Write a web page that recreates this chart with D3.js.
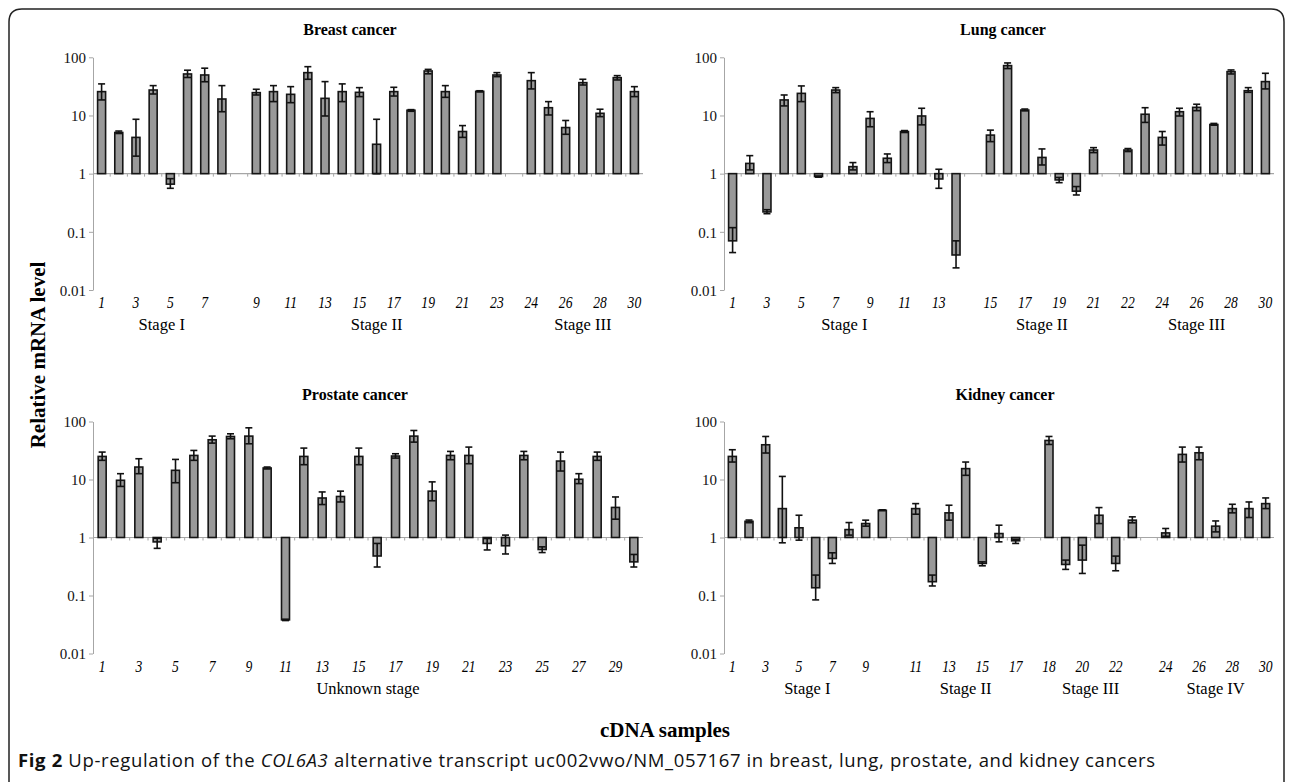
<!DOCTYPE html>
<html>
<head>
<meta charset="utf-8">
<script src="https://cdn.jsdelivr.net/npm/d3@7"></script>
<style>
  body { margin: 0; background: #fff; }
  svg { display: block; }
</style>
</head>
<body>
<svg id="fig" width="1292" height="782"></svg>
<script>
// ---- data (relative mRNA level, error bar low / high) ----
var breastValues = [25.7, 5.1, 4.2, 27.4, 0.66, 51.7, 49.7, 19.2,
    24.7, 25.7, 23.1, 54.5, 19.7, 25.7, 25.0, 3.2, 25.7, 12.3, 58.2, 25.7, 5.3, 26.0, 49.7,
    39.7, 13.6, 6.2, 36.7, 10.9, 44.7, 25.7];
var breastLow = [18.5, 4.9, 2.0, 23.4, 0.56, 45, 38, 11.6,
    22.5, 17.3, 16.6, 41.9, 9.8, 17.3, 21.1, 1.0, 21.6, 11.8, 52, 20.5, 4.2, 25.4, 46.5,
    28.6, 10.2, 4.75, 33.4, 9.55, 40.8, 21.1];
var breastHigh = [34.9, 5.4, 8.6, 32.6, 0.82, 60, 65, 32.6,
    28.2, 32.6, 31.3, 69, 38.2, 34.9, 30.1, 8.6, 30.5, 12.6, 62, 32.6, 6.7, 26.6, 54.5,
    54.5, 17.3, 8.2, 41.9, 12.8, 48.4, 31.3];
var breastStages = ["Stage I", "Stage II", "Stage III"];
var breastStageSizes = [8, 15, 7];
var breastTicks = [1, 3, 5, 7, 9, 11, 13, 15, 17, 19, 21, 23, 24, 26, 28, 30];

var lungValues = [0.07, 1.5, 0.22, 18.5, 24.0, 0.89, 27.4, 1.32, 8.9, 1.84, 5.3, 9.8, 0.81, 0.04,
    4.6, 72, 12.4, 1.9, 0.78, 0.5, 2.55,
    2.55, 10.5, 4.2, 11.6, 13.8, 7.0, 56.7, 26.7, 38.2];
var lungLow = [0.044, 1.16, 0.205, 14.6, 17.3, 0.87, 24.7, 1.16, 6.4, 1.55, 5.1, 6.9, 0.56, 0.024,
    3.55, 64, 12.0, 1.41, 0.70, 0.43, 2.3,
    2.4, 7.6, 3.1, 9.8, 12.1, 6.8, 51.7, 25.0, 28.6];
var lungHigh = [0.118, 2.04, 0.24, 22.5, 32.2, 0.91, 30.1, 1.55, 11.6, 2.18, 5.5, 13.3, 1.19, 0.07,
    5.6, 80, 12.9, 2.66, 0.86, 0.6, 2.8,
    2.7, 13.6, 5.3, 13.3, 15.6, 7.3, 60.6, 30.1, 53.1];
var lungStages = ["Stage I", "Stage II", "Stage III"];
var lungStageSizes = [14, 7, 9];
var lungTicks = [1, 3, 5, 7, 9, 11, 13, 15, 17, 19, 21, 22, 24, 26, 28, 30];

var prostateValues = [25.0, 9.7, 16.4, 0.84, 14.4, 26.0, 48.4, 55.2, 56, 15.8, 0.038, 25.0, 4.8, 5.1, 25.0,
    0.48, 25.4, 56, 6.3, 26.0, 26.0, 0.79, 0.72, 26.0, 0.62, 20.8, 10.1, 25.0, 3.3, 0.38];
var prostateLow = [21.4, 7.6, 12.6, 0.65, 8.8, 21.4, 42.4, 50.4, 41.3, 15.2, 0.037, 18.0, 3.7, 4.1, 18.0,
    0.31, 23.4, 44.1, 4.3, 21.9, 18.7, 0.61, 0.52, 21.9, 0.55, 14.0, 8.5, 21.4, 2.07, 0.31];
var prostateHigh = [29.7, 12.6, 22.8, 0.97, 22.2, 31.7, 56, 61.4, 77.8, 16.4, 0.039, 34.8, 6.1, 6.3, 34.8,
    0.79, 27.8, 70, 9.1, 30.5, 36.2, 0.96, 1.1, 30.5, 0.69, 29.7, 12.6, 29.7, 5.0, 0.51];
var prostateStages = ["Unknown stage"];
var prostateStageSizes = [30];
var prostateTicks = [1, 3, 5, 7, 9, 11, 13, 15, 17, 19, 21, 23, 25, 27, 29];

var kidneyValues = [25.0, 1.9, 39.7, 3.15, 1.47, 0.136, 0.435, 1.37, 1.74, 2.95,
    3.15, 0.173, 2.66, 15.4, 0.357, 1.17, 0.877,
    47.1, 0.343, 0.408, 2.42, 0.357, 1.99,
    1.2, 27.1, 28.9, 1.57, 3.15, 3.15, 3.84];
var kidneyLow = [20.0, 1.8, 28.6, 0.81, 0.9, 0.084, 0.357, 1.1, 1.57, 2.9,
    2.52, 0.146, 1.99, 11.8, 0.325, 0.842, 0.79,
    40.2, 0.282, 0.24, 1.74, 0.267, 1.79,
    1.05, 20.0, 21.9, 1.25, 2.66, 2.21, 3.15];
var kidneyHigh = [32.6, 2.0, 55.2, 11.3, 2.42, 0.225, 0.545, 1.81, 1.99, 3.0,
    3.84, 0.225, 3.6, 20.0, 0.38, 1.63, 0.93,
    55.2, 0.408, 0.738, 3.28, 0.478, 2.27,
    1.43, 36.2, 36.2, 1.93, 3.74, 4.1, 4.81];
var kidneyStages = ["Stage I", "Stage II", "Stage III", "Stage IV"];
var kidneyStageSizes = [10, 7, 6, 7];
var kidneyTicks = [1, 3, 5, 7, 9, 11, 13, 15, 17, 18, 20, 22, 24, 26, 28, 30];

var yTicks = [0.01, 0.1, 1, 10, 100];

// ---- layout ----
var panels = [
    { title: "Breast cancer", values: breastValues, low: breastLow, high: breastHigh,
      stages: breastStages, sizes: breastStageSizes, ticks: breastTicks,
      left: 93, right: 643, top: 57.3, bottom: 290, titleX: 350 },
    { title: "Lung cancer", values: lungValues, low: lungLow, high: lungHigh,
      stages: lungStages, sizes: lungStageSizes, ticks: lungTicks,
      left: 724, right: 1274, top: 57.3, bottom: 290, titleX: 1003 },
    { title: "Prostate cancer", values: prostateValues, low: prostateLow, high: prostateHigh,
      stages: prostateStages, sizes: prostateStageSizes, ticks: prostateTicks,
      left: 93, right: 643, top: 421.5, bottom: 653.5, titleX: 355 },
    { title: "Kidney cancer", values: kidneyValues, low: kidneyLow, high: kidneyHigh,
      stages: kidneyStages, sizes: kidneyStageSizes, ticks: kidneyTicks,
      left: 724, right: 1274, top: 421.5, bottom: 653.5, titleX: 1005 }
];

var serif = "'Liberation Serif', 'Times New Roman', serif";
var svg = d3.select("#fig");

// frame round the figure
svg.append("path")
    .attr("d", "M9,782 V22 Q9,9 22,9 H1271 Q1284,9 1284,22 V782")
    .attr("fill", "none")
    .attr("stroke", "#222")
    .attr("stroke-width", 1.5);

panels.forEach(function (p) {
    // slots: samples of each stage, with one empty slot between stages
    var slots = [];
    var groups = [];
    var n = 0;
    p.sizes.forEach(function (size, g) {
        if (g > 0) slots.push("gap" + g);
        var first = n + 1;
        for (var k = 0; k < size; k++) { n++; slots.push(String(n)); }
        groups.push({ name: p.stages[g], first: first, last: n });
    });

    var x = d3.scaleBand().domain(slots).range([p.left, p.right]);
    var y = d3.scaleLog().domain([0.01, 100]).range([p.bottom, p.top]);
    var bw = x.bandwidth();
    var barW = 8;
    var g = svg.append("g");

    // y axis
    var yAxis = g.append("g")
        .attr("transform", "translate(" + p.left + ",0)")
        .call(d3.axisLeft(y).tickValues(yTicks).tickFormat(function (d) { return String(d); })
            .tickSize(4).tickSizeOuter(0));
    yAxis.selectAll("path, line").attr("stroke", "#a6a6a6");
    yAxis.selectAll("text")
        .attr("fill", "#111")
        .style("font-family", serif)
        .style("font-size", "15px")
        .attr("dy", "0.35em");

    // horizontal axis at 1 with small ticks at slot boundaries
    var y1 = y(1);
    g.append("line")
        .attr("x1", p.left).attr("x2", p.right)
        .attr("y1", y1).attr("y2", y1)
        .attr("stroke", "#a6a6a6").attr("stroke-width", 1.2);
    g.selectAll(".mt")
        .data(slots.slice(1))
        .enter().append("line")
        .attr("x1", function (d) { return x(d); })
        .attr("x2", function (d) { return x(d); })
        .attr("y1", y1).attr("y2", y1 + 3)
        .attr("stroke", "#a6a6a6");

    // bars
    var data = p.values.map(function (v, i) {
        return { key: String(i + 1), v: v, lo: p.low[i], hi: p.high[i] };
    });
    g.selectAll(".bar")
        .data(data)
        .enter().append("rect")
        .attr("x", function (d) { return x(d.key) + bw / 2 - barW / 2; })
        .attr("y", function (d) { return Math.min(y1, y(d.v)); })
        .attr("width", barW)
        .attr("height", function (d) { return Math.abs(y(d.v) - y1); })
        .attr("fill", "#999")
        .attr("stroke", "#151515")
        .attr("stroke-width", 1.6);

    // error bars
    var eb = g.selectAll(".err")
        .data(data)
        .enter().append("g")
        .attr("stroke", "#111")
        .attr("stroke-width", 1.6);
    eb.append("line")
        .attr("x1", function (d) { return x(d.key) + bw / 2; })
        .attr("x2", function (d) { return x(d.key) + bw / 2; })
        .attr("y1", function (d) { return y(d.lo); })
        .attr("y2", function (d) { return y(d.hi); });
    ["lo", "hi"].forEach(function (end) {
        eb.append("line")
            .attr("x1", function (d) { return x(d.key) + bw / 2 - 3.5; })
            .attr("x2", function (d) { return x(d.key) + bw / 2 + 3.5; })
            .attr("y1", function (d) { return y(d[end]); })
            .attr("y2", function (d) { return y(d[end]); });
    });

    // sample numbers
    g.selectAll(".tick-label")
        .data(p.ticks)
        .enter().append("text")
        .attr("transform", function (d) {
            return "translate(" + (x(String(d)) + bw / 2) + "," + (p.bottom + 18) + ") scale(0.85,1)";
        })
        .attr("text-anchor", "middle")
        .style("font-family", serif)
        .style("font-style", "italic")
        .style("font-size", "16px")
        .text(function (d) { return d; });

    // stage labels centred on their groups
    g.selectAll(".stage")
        .data(groups)
        .enter().append("text")
        .attr("x", function (d) { return (x(String(d.first)) + x(String(d.last)) + bw) / 2; })
        .attr("y", p.bottom + 40)
        .attr("text-anchor", "middle")
        .style("font-family", serif)
        .style("font-size", "16.5px")
        .text(function (d) { return d.name; });

    // panel title
    g.append("text")
        .attr("x", p.titleX)
        .attr("y", p.top - 22)
        .attr("text-anchor", "middle")
        .style("font-family", serif)
        .style("font-weight", "bold")
        .style("font-size", "16px")
        .text(p.title);
});

// shared axis titles
svg.append("text")
    .attr("transform", "translate(45,355) rotate(-90)")
    .attr("text-anchor", "middle")
    .style("font-family", serif)
    .style("font-weight", "bold")
    .style("font-size", "21px")
    .text("Relative mRNA level");

svg.append("text")
    .attr("x", 665)
    .attr("y", 737)
    .attr("text-anchor", "middle")
    .style("font-family", serif)
    .style("font-weight", "bold")
    .style("font-size", "21px")
    .text("cDNA samples");

// caption
var cap = svg.append("text")
    .attr("x", 18)
    .attr("y", 767)
    .style("font-family", "'Open Sans', 'Noto Sans', sans-serif")
    .style("font-size", "18.5px")
    .attr("textLength", 1137)
    .attr("lengthAdjust", "spacing")
    .attr("fill", "#111");
cap.append("tspan").style("font-weight", "bold").text("Fig 2");
cap.append("tspan").text(" Up-regulation of the ");
cap.append("tspan").style("font-style", "italic").text("COL6A3");
cap.append("tspan").text(" alternative transcript uc002vwo/NM_057167 in breast, lung, prostate, and kidney cancers");
</script>
</body>
</html>
